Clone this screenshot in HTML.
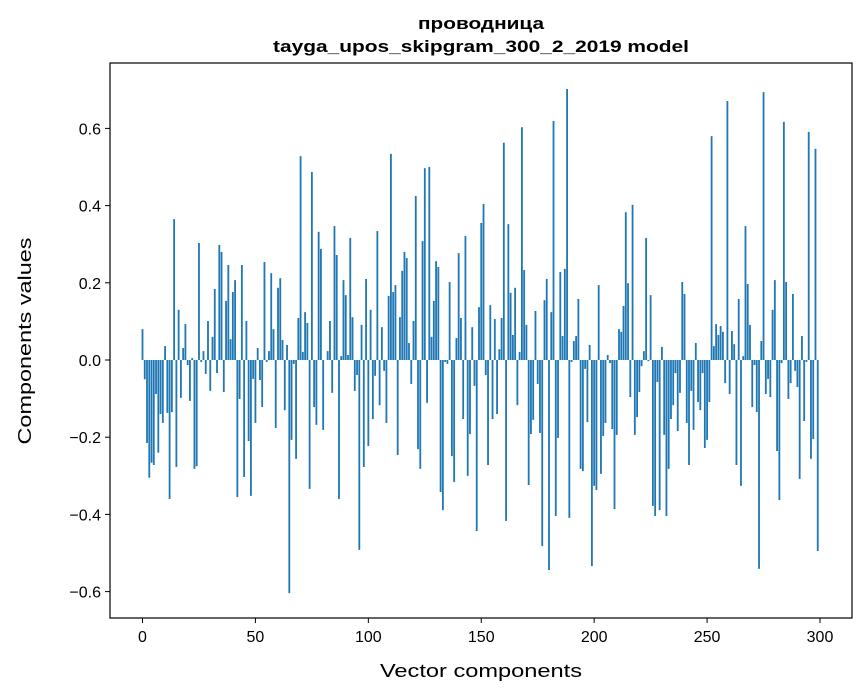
<!DOCTYPE html>
<html><head><meta charset="utf-8"><style>
body{margin:0;background:#fff;}
svg{display:block;font-family:"Liberation Sans","DejaVu Sans",sans-serif;}
</style></head><body>
<svg id="chart" width="867" height="696" viewBox="0 0 867 696" xmlns="http://www.w3.org/2000/svg">
<rect width="867" height="696" fill="#fff"/>
<text x="481" y="29" text-anchor="middle" font-size="17" font-weight="bold" textLength="126" lengthAdjust="spacingAndGlyphs">проводница</text>
<text x="481" y="52" text-anchor="middle" font-size="17" font-weight="bold" textLength="416" lengthAdjust="spacingAndGlyphs">tayga_upos_skipgram_300_2_2019 model</text>
<g id="bars"></g>
<g id="axes"></g>
<rect x="110" y="63" width="742" height="555" fill="none" stroke="#000" stroke-width="1.2"/>
<text x="481" y="677" text-anchor="middle" font-size="18" textLength="202" lengthAdjust="spacingAndGlyphs">Vector components</text>
<text transform="translate(31,341) rotate(-90)" text-anchor="middle" font-size="18" textLength="207" lengthAdjust="spacingAndGlyphs">Components values</text>
</svg>
<script>
const values = [0.08,-0.05,-0.215,-0.305,-0.266,-0.272,-0.088,-0.24,-0.14,-0.163,
0.036,-0.137,-0.36,-0.135,0.365,-0.277,0.13,-0.098,0.031,0.093,
-0.013,-0.106,0.005,-0.282,-0.275,0.303,-0.005,0.023,-0.036,0.101,
-0.08,0.06,0.184,-0.034,0.298,0.28,-0.083,0.153,0.246,0.054,
0.176,0.207,-0.355,-0.101,0.246,-0.303,0.101,-0.21,-0.352,-0.049,
-0.163,0.031,-0.052,-0.122,0.254,-0.005,0.023,0.225,0.08,-0.176,
0.187,0.212,0.052,-0.13,0.039,-0.604,-0.207,-0.01,-0.256,0.109,
0.528,0.021,0.124,0.096,-0.334,0.487,-0.122,-0.168,0.332,0.288,
-0.181,0.0,0.023,0.101,-0.085,0.347,0.272,-0.36,0.01,0.207,
0.168,0.013,0.316,0.111,-0.08,-0.039,-0.492,0.091,-0.277,0.21,
-0.223,0.13,-0.153,-0.041,0.334,-0.117,0.085,-0.028,-0.163,0.166,
0.534,0.176,0.194,-0.246,0.111,0.231,0.28,0.264,0.044,-0.062,
0.101,0.425,-0.231,-0.282,0.308,0.497,-0.111,0.5,0.06,0.153,
0.256,0.241,-0.342,-0.389,-0.005,-0.01,0.202,-0.249,-0.316,0.057,
0.277,0.109,-0.153,0.321,-0.3,-0.192,0.085,-0.067,-0.443,0.137,
0.355,0.404,-0.039,-0.272,0.142,-0.153,0.106,-0.14,0.028,0.109,
0.563,-0.417,0.352,0.174,0.065,0.187,-0.117,0.021,0.603,0.233,
0.091,-0.324,-0.192,-0.155,0.127,-0.062,-0.189,-0.482,0.155,0.21,
-0.544,0.124,0.619,-0.404,-0.202,0.228,0.062,0.236,0.702,-0.409,
-0.005,0.049,0.062,0.158,-0.282,-0.288,-0.023,-0.161,0.039,-0.534,
-0.326,-0.337,0.194,-0.295,-0.197,-0.163,0.013,-0.008,-0.179,-0.386,
-0.194,0.08,0.073,0.14,0.383,0.199,-0.096,0.402,-0.194,-0.148,
-0.083,-0.016,0.023,0.316,-0.003,0.168,-0.378,-0.404,-0.057,-0.389,
0.034,-0.194,-0.404,-0.282,-0.153,-0.117,-0.034,-0.184,-0.085,0.202,
0.171,-0.163,-0.272,-0.08,-0.181,0.044,-0.109,-0.13,-0.034,-0.228,
-0.207,-0.109,0.58,0.036,0.093,0.065,0.088,0.073,-0.06,0.671,
-0.088,0.075,0.041,-0.272,0.158,-0.326,0.01,0.347,0.197,0.091,
-0.122,-0.013,-0.135,-0.541,0.049,0.694,-0.088,-0.049,-0.096,0.13,
0.207,-0.236,-0.363,-0.008,0.617,0.202,-0.101,-0.06,0.171,-0.028,
-0.07,-0.308,0.062,-0.158,-0.005,0.591,-0.256,-0.205,0.547,-0.495];
const xTicks = [0,50,100,150,200,250,300];
const yTicks = [-0.6,-0.4,-0.2,0.0,0.2,0.4,0.6];
const yTickLabels = ["\u22120.6","\u22120.4","\u22120.2","0.0","0.2","0.4","0.6"];

const NS = "http://www.w3.org/2000/svg";
function xScale(v){ return 142.5 + v * (820 - 142.5) / 300; }
function yScale(v){ return 360 - v * 386; }
const bw = 0.8 * (820 - 142.5) / 300;
const barsG = document.getElementById('bars');
values.forEach((v, i) => {
  const r = document.createElementNS(NS, 'rect');
  const y0 = yScale(0), y1 = yScale(v);
  r.setAttribute('x', (xScale(i) - bw / 2).toFixed(2));
  r.setAttribute('y', Math.min(y0, y1).toFixed(2));
  r.setAttribute('width', bw.toFixed(2));
  r.setAttribute('height', Math.abs(y1 - y0).toFixed(2));
  r.setAttribute('fill', '#1f77b4');
  
  
  barsG.appendChild(r);
});
const axesG = document.getElementById('axes');
xTicks.forEach(t => {
  const x = xScale(t);
  const l = document.createElementNS(NS, 'line');
  l.setAttribute('x1', x); l.setAttribute('x2', x);
  l.setAttribute('y1', 618); l.setAttribute('y2', 623);
  l.setAttribute('stroke', '#000');
  
  
  axesG.appendChild(l);
  const tx = document.createElementNS(NS, 'text');
  tx.setAttribute('x', x); tx.setAttribute('y', 642);
  tx.setAttribute('text-anchor', 'middle');
  tx.setAttribute('font-size', '16');
  tx.textContent = String(t);
  
  
  axesG.appendChild(tx);
});
yTicks.forEach((t, i) => {
  const y = yScale(t);
  const l = document.createElementNS(NS, 'line');
  l.setAttribute('x1', 105); l.setAttribute('x2', 110);
  l.setAttribute('y1', y); l.setAttribute('y2', y);
  l.setAttribute('stroke', '#000');
  
  
  axesG.appendChild(l);
  const tx = document.createElementNS(NS, 'text');
  tx.setAttribute('x', 101); tx.setAttribute('y', y + 6);
  tx.setAttribute('text-anchor', 'end');
  tx.setAttribute('font-size', '16');
  tx.textContent = yTickLabels[i];
  
  
  axesG.appendChild(tx);
});
</script>
</body></html>
